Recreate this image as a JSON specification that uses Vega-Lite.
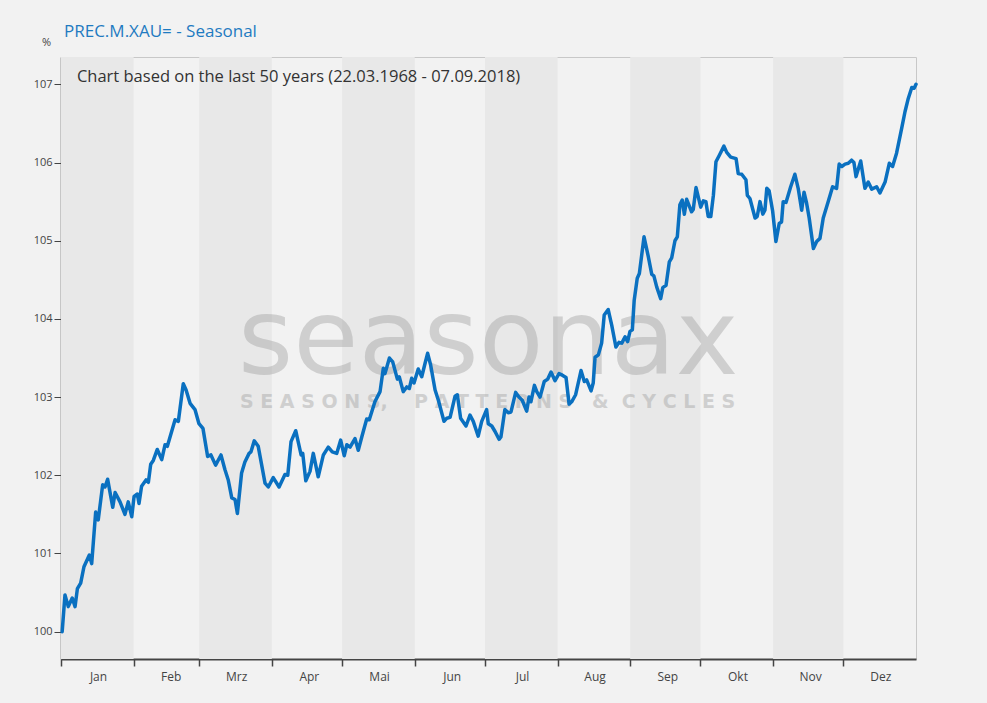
{
  "$schema": "https://vega.github.io/schema/vega-lite/v6.json",
  "width": 855,
  "height": 602,
  "autosize": {"type": "none"},
  "padding": {"left": 61, "top": 57, "right": 71, "bottom": 44},
  "background": "#f2f2f2",
  "title": {
    "text": "PREC.M.XAU= - Seasonal",
    "anchor": "start",
    "frame": "group",
    "dx": 3,
    "offset": -5,
    "font": "Open Sans",
    "fontSize": 17,
    "fontWeight": "normal",
    "color": "#1f7bc1"
  },
  "config": {
    "view": {"stroke": "#c8c8c8", "fill": "#f2f2f2"},
    "axis": {"labelFont": "Open Sans", "titleFont": "Open Sans", "grid": false}
  },
  "datasets": {
    "months": [
      {"month": "Jan", "start": 0, "end": 31},
      {"month": "Mrz", "start": 59, "end": 90},
      {"month": "Mai", "start": 120, "end": 151},
      {"month": "Jul", "start": 181, "end": 212},
      {"month": "Sep", "start": 243, "end": 273},
      {"month": "Nov", "start": 304, "end": 334}
    ],
    "notes": [
      {"note": "watermark"}
    ],
    "seasonal": [
      {"day": 0.5, "value": 100.0},
      {"day": 1.7, "value": 100.47},
      {"day": 3.1, "value": 100.32},
      {"day": 4.8, "value": 100.43},
      {"day": 6.0, "value": 100.32},
      {"day": 7.0, "value": 100.55},
      {"day": 8.4, "value": 100.62},
      {"day": 9.8, "value": 100.83},
      {"day": 12.1, "value": 100.98},
      {"day": 13.1, "value": 100.87},
      {"day": 14.8, "value": 101.53},
      {"day": 15.9, "value": 101.43},
      {"day": 17.8, "value": 101.88},
      {"day": 18.8, "value": 101.85},
      {"day": 19.9, "value": 101.95},
      {"day": 22.1, "value": 101.59},
      {"day": 23.1, "value": 101.78},
      {"day": 25.2, "value": 101.66},
      {"day": 27.3, "value": 101.5},
      {"day": 28.7, "value": 101.66},
      {"day": 30.2, "value": 101.47},
      {"day": 31.2, "value": 101.73},
      {"day": 32.6, "value": 101.76},
      {"day": 33.3, "value": 101.64},
      {"day": 34.4, "value": 101.86},
      {"day": 36.3, "value": 101.94},
      {"day": 37.3, "value": 101.91},
      {"day": 38.3, "value": 102.14},
      {"day": 39.4, "value": 102.19},
      {"day": 41.1, "value": 102.33},
      {"day": 43.0, "value": 102.2},
      {"day": 44.4, "value": 102.39},
      {"day": 45.4, "value": 102.37},
      {"day": 48.7, "value": 102.71},
      {"day": 50.1, "value": 102.69},
      {"day": 52.2, "value": 103.17},
      {"day": 53.4, "value": 103.09},
      {"day": 55.1, "value": 102.92},
      {"day": 57.2, "value": 102.84},
      {"day": 58.9, "value": 102.66},
      {"day": 60.6, "value": 102.6},
      {"day": 62.6, "value": 102.24},
      {"day": 64.0, "value": 102.26},
      {"day": 66.0, "value": 102.13},
      {"day": 68.3, "value": 102.26},
      {"day": 70.0, "value": 102.07},
      {"day": 71.4, "value": 101.94},
      {"day": 72.9, "value": 101.71},
      {"day": 74.3, "value": 101.69},
      {"day": 75.3, "value": 101.51},
      {"day": 77.1, "value": 102.03},
      {"day": 78.5, "value": 102.17},
      {"day": 80.3, "value": 102.28},
      {"day": 81.1, "value": 102.3},
      {"day": 82.5, "value": 102.44},
      {"day": 84.2, "value": 102.37},
      {"day": 87.1, "value": 101.9},
      {"day": 88.5, "value": 101.85},
      {"day": 90.6, "value": 101.97},
      {"day": 93.1, "value": 101.85},
      {"day": 95.6, "value": 102.01},
      {"day": 96.8, "value": 102.0},
      {"day": 98.2, "value": 102.43},
      {"day": 100.2, "value": 102.57},
      {"day": 102.5, "value": 102.26},
      {"day": 103.2, "value": 102.28},
      {"day": 104.5, "value": 101.93},
      {"day": 106.3, "value": 102.05},
      {"day": 107.7, "value": 102.28},
      {"day": 109.8, "value": 101.98},
      {"day": 112.0, "value": 102.26},
      {"day": 114.1, "value": 102.36},
      {"day": 115.8, "value": 102.3},
      {"day": 117.7, "value": 102.28},
      {"day": 119.4, "value": 102.45},
      {"day": 120.9, "value": 102.25},
      {"day": 122.0, "value": 102.39},
      {"day": 123.4, "value": 102.36},
      {"day": 125.5, "value": 102.47},
      {"day": 126.9, "value": 102.32},
      {"day": 128.4, "value": 102.49},
      {"day": 130.5, "value": 102.72},
      {"day": 131.6, "value": 102.71},
      {"day": 134.0, "value": 102.94},
      {"day": 136.2, "value": 103.07},
      {"day": 137.6, "value": 103.37},
      {"day": 138.3, "value": 103.3},
      {"day": 140.2, "value": 103.5},
      {"day": 141.6, "value": 103.45},
      {"day": 143.6, "value": 103.23},
      {"day": 144.4, "value": 103.26},
      {"day": 146.1, "value": 103.07},
      {"day": 147.6, "value": 103.13},
      {"day": 148.7, "value": 103.11},
      {"day": 149.7, "value": 103.24},
      {"day": 150.7, "value": 103.18},
      {"day": 152.5, "value": 103.36},
      {"day": 154.0, "value": 103.26},
      {"day": 155.4, "value": 103.43},
      {"day": 156.5, "value": 103.56},
      {"day": 157.8, "value": 103.41},
      {"day": 159.7, "value": 103.09},
      {"day": 161.1, "value": 102.96},
      {"day": 163.5, "value": 102.69},
      {"day": 164.7, "value": 102.73},
      {"day": 166.1, "value": 102.74},
      {"day": 168.2, "value": 103.01},
      {"day": 169.2, "value": 103.03},
      {"day": 170.6, "value": 102.73},
      {"day": 172.9, "value": 102.63},
      {"day": 174.6, "value": 102.77},
      {"day": 176.0, "value": 102.69},
      {"day": 178.1, "value": 102.5},
      {"day": 179.6, "value": 102.69},
      {"day": 181.7, "value": 102.84},
      {"day": 182.4, "value": 102.66},
      {"day": 183.9, "value": 102.63},
      {"day": 185.3, "value": 102.56},
      {"day": 187.0, "value": 102.46},
      {"day": 187.8, "value": 102.49},
      {"day": 189.5, "value": 102.84},
      {"day": 190.9, "value": 102.8},
      {"day": 192.1, "value": 102.81},
      {"day": 194.1, "value": 103.06},
      {"day": 195.5, "value": 103.0},
      {"day": 196.9, "value": 102.96},
      {"day": 198.8, "value": 102.82},
      {"day": 199.8, "value": 103.0},
      {"day": 200.6, "value": 102.94},
      {"day": 202.1, "value": 103.15},
      {"day": 203.1, "value": 103.07},
      {"day": 204.5, "value": 103.0},
      {"day": 206.3, "value": 103.2},
      {"day": 207.8, "value": 103.23},
      {"day": 209.2, "value": 103.32},
      {"day": 210.9, "value": 103.21},
      {"day": 212.6, "value": 103.3},
      {"day": 214.0, "value": 103.28},
      {"day": 215.6, "value": 103.25},
      {"day": 216.9, "value": 102.91},
      {"day": 218.0, "value": 102.94},
      {"day": 219.7, "value": 103.03},
      {"day": 222.0, "value": 103.34},
      {"day": 223.4, "value": 103.2},
      {"day": 224.4, "value": 103.22},
      {"day": 226.3, "value": 103.08},
      {"day": 227.2, "value": 103.18},
      {"day": 228.0, "value": 103.51},
      {"day": 229.4, "value": 103.54},
      {"day": 230.8, "value": 103.69},
      {"day": 231.9, "value": 104.05},
      {"day": 233.6, "value": 104.12},
      {"day": 235.1, "value": 103.92},
      {"day": 236.9, "value": 103.64},
      {"day": 238.2, "value": 103.7},
      {"day": 239.4, "value": 103.69},
      {"day": 240.8, "value": 103.77},
      {"day": 241.9, "value": 103.71},
      {"day": 242.9, "value": 103.84},
      {"day": 243.9, "value": 103.86},
      {"day": 244.7, "value": 104.24},
      {"day": 246.0, "value": 104.52},
      {"day": 246.9, "value": 104.58},
      {"day": 248.9, "value": 105.05},
      {"day": 250.7, "value": 104.8},
      {"day": 252.2, "value": 104.57},
      {"day": 253.1, "value": 104.55},
      {"day": 254.3, "value": 104.41},
      {"day": 256.0, "value": 104.26},
      {"day": 256.9, "value": 104.4},
      {"day": 258.3, "value": 104.43},
      {"day": 259.7, "value": 104.73},
      {"day": 260.7, "value": 104.78},
      {"day": 262.1, "value": 105.0},
      {"day": 263.1, "value": 105.05},
      {"day": 264.2, "value": 105.46},
      {"day": 265.2, "value": 105.52},
      {"day": 266.1, "value": 105.34},
      {"day": 267.1, "value": 105.53},
      {"day": 269.2, "value": 105.37},
      {"day": 269.9, "value": 105.4},
      {"day": 271.1, "value": 105.68},
      {"day": 273.1, "value": 105.43},
      {"day": 274.2, "value": 105.51},
      {"day": 275.3, "value": 105.5},
      {"day": 276.3, "value": 105.31},
      {"day": 277.4, "value": 105.31},
      {"day": 278.5, "value": 105.58},
      {"day": 279.6, "value": 106.01},
      {"day": 281.0, "value": 106.09},
      {"day": 283.0, "value": 106.21},
      {"day": 284.2, "value": 106.13},
      {"day": 285.9, "value": 106.07},
      {"day": 288.2, "value": 106.05},
      {"day": 289.1, "value": 105.86},
      {"day": 290.6, "value": 105.85},
      {"day": 292.4, "value": 105.78},
      {"day": 293.0, "value": 105.58},
      {"day": 294.1, "value": 105.54},
      {"day": 296.3, "value": 105.29},
      {"day": 297.2, "value": 105.31},
      {"day": 298.4, "value": 105.5},
      {"day": 299.6, "value": 105.34},
      {"day": 300.5, "value": 105.39},
      {"day": 301.3, "value": 105.67},
      {"day": 302.3, "value": 105.64},
      {"day": 303.8, "value": 105.38},
      {"day": 305.2, "value": 104.99},
      {"day": 306.6, "value": 105.22},
      {"day": 307.6, "value": 105.24},
      {"day": 308.3, "value": 105.5},
      {"day": 309.5, "value": 105.49},
      {"day": 311.5, "value": 105.69},
      {"day": 313.3, "value": 105.85},
      {"day": 314.7, "value": 105.67},
      {"day": 316.2, "value": 105.39},
      {"day": 317.2, "value": 105.62},
      {"day": 318.3, "value": 105.48},
      {"day": 319.4, "value": 105.29},
      {"day": 321.2, "value": 104.9},
      {"day": 322.6, "value": 104.99},
      {"day": 324.0, "value": 105.03},
      {"day": 325.4, "value": 105.29},
      {"day": 327.5, "value": 105.5},
      {"day": 329.4, "value": 105.69},
      {"day": 331.1, "value": 105.67},
      {"day": 332.2, "value": 105.98},
      {"day": 333.3, "value": 105.95},
      {"day": 334.7, "value": 105.98},
      {"day": 336.1, "value": 105.99},
      {"day": 337.5, "value": 106.03},
      {"day": 338.5, "value": 106.0},
      {"day": 339.4, "value": 105.82},
      {"day": 341.4, "value": 106.02},
      {"day": 343.2, "value": 105.67},
      {"day": 344.6, "value": 105.75},
      {"day": 346.1, "value": 105.66},
      {"day": 348.2, "value": 105.69},
      {"day": 349.6, "value": 105.61},
      {"day": 351.8, "value": 105.75},
      {"day": 353.6, "value": 105.99},
      {"day": 355.0, "value": 105.95},
      {"day": 356.7, "value": 106.12},
      {"day": 358.9, "value": 106.44},
      {"day": 360.3, "value": 106.65},
      {"day": 361.7, "value": 106.82},
      {"day": 363.2, "value": 106.96},
      {"day": 364.2, "value": 106.95},
      {"day": 365.0, "value": 107.0}
    ]
  },
  "encoding": {
    "x": {
      "type": "quantitative",
      "scale": {"domain": [0, 365], "nice": false, "zero": false},
      "axis": {
        "title": null,
        "values": [0, 31, 59, 90, 120, 151, 181, 212, 243, 273, 304, 334],
        "labelExpr": "{'0':'Jan','31':'Feb','59':'Mrz','90':'Apr','120':'Mai','151':'Jun','181':'Jul','212':'Aug','243':'Sep','273':'Okt','304':'Nov','334':'Dez'}[datum.value]",
        "labelOffset": 37,
        "labelFontSize": 12,
        "labelColor": "#444444",
        "labelPadding": 5,
        "labelFlush": false,
        "labelOverlap": false,
        "tickSize": 7,
        "tickWidth": 1.5,
        "tickColor": "#444444",
        "domainColor": "#444444",
        "domainWidth": 2
      }
    },
    "y": {
      "type": "quantitative",
      "scale": {"domain": [99.65, 107.35], "nice": false, "zero": false},
      "axis": {
        "title": "%",
        "titleAngle": 0,
        "titleX": -15,
        "titleY": -15,
        "titleAlign": "center",
        "titleBaseline": "middle",
        "titleFontSize": 11,
        "titleFontWeight": "normal",
        "titleColor": "#444444",
        "values": [100, 101, 102, 103, 104, 105, 106, 107],
        "labelFontSize": 11,
        "labelColor": "#444444",
        "labelPadding": 2,
        "tickSize": 7,
        "tickColor": "#444444",
        "domainColor": "#444444",
        "domainWidth": 1.5
      }
    }
  },
  "layer": [
    {
      "data": {"name": "months"},
      "mark": {"type": "rect", "fill": "#e8e8e8"},
      "encoding": {
        "x": {"field": "start", "type": "quantitative"},
        "x2": {"field": "end"}
      }
    },
    {
      "data": {"name": "notes"},
      "mark": {"type": "text", "text": "seasonax", "font": "DejaVu Sans", "fontSize": 106, "align": "left", "baseline": "alphabetic", "fill": "#a0a0a0", "opacity": 0.42},
      "encoding": {
        "x": {"datum": 75.6, "type": "quantitative"},
        "y": {"datum": 103.3, "type": "quantitative"}
      }
    },
    {
      "data": {"name": "notes"},
      "mark": {"type": "text", "text": "S E A S O N S,\u00a0\u00a0\u00a0\u00a0P A T T E R N S\u00a0\u00a0\u00a0&\u00a0\u00a0C Y C L E S", "font": "DejaVu Sans", "fontWeight": "bold", "fontSize": 19, "align": "left", "baseline": "alphabetic", "fill": "#a0a0a0", "opacity": 0.42},
      "encoding": {
        "x": {"datum": 76.4, "type": "quantitative"},
        "y": {"datum": 102.86, "type": "quantitative"}
      }
    },
    {
      "data": {"name": "notes"},
      "mark": {"type": "text", "text": "Chart based on the last 50 years (22.03.1968 - 07.09.2018)", "font": "Open Sans", "fontSize": 16.5, "align": "left", "baseline": "alphabetic", "fill": "#333333"},
      "encoding": {
        "x": {"datum": 6.8, "type": "quantitative"},
        "y": {"datum": 107.03, "type": "quantitative"}
      }
    },
    {
      "data": {"name": "seasonal"},
      "mark": {"type": "line", "color": "#0a70c0", "strokeWidth": 3.5, "strokeJoin": "round", "strokeCap": "round"},
      "encoding": {
        "x": {"field": "day", "type": "quantitative"},
        "y": {"field": "value", "type": "quantitative"}
      }
    }
  ]
}
